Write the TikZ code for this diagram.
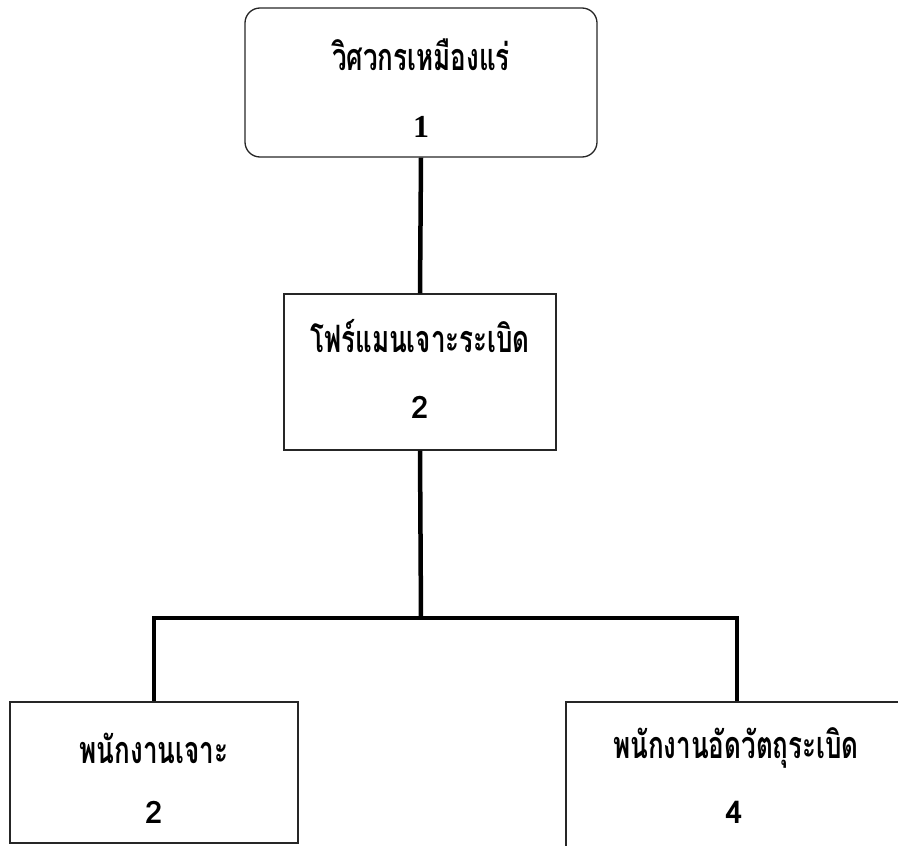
\documentclass[tikz,border=0pt]{standalone}
\usepackage{fontspec}
\newfontfamily\thaifont[Script=Thai]{Loma}
\newfontfamily\serifnum{Liberation Serif}
\newcommand\thtall[1]{\scalebox{1}[1.45]{#1}}
\begin{document}
\begin{tikzpicture}[x=1pt,y=-1pt,
  box/.style={draw=black!85, line width=1.3pt, minimum width=#1, inner sep=0pt},
  conn/.style={draw=black, line width=4.5pt, line cap=butt},
  lbl/.style={font=\thaifont\bfseries\fontsize{26}{30}\selectfont, inner sep=0pt, anchor=center},
  num/.style={font=\thaifont\bfseries\fontsize{31}{34}\selectfont, inner sep=0pt}
]
\useasboundingbox (0,0) rectangle (898,846);
% boxes
\node[box=352pt, minimum height=149pt, rounded corners=15pt] (top) at (421,82.5) {};
\node[box=272pt, minimum height=156pt] (mid) at (420,372) {};
\node[box=288pt, minimum height=141pt] (left) at (154,772.5) {};
\node[box=342pt, minimum height=160pt] (right) at (737,782) {};
% texts
\node[lbl] (t1) at (421,55) {\thtall{วิศวกรเหมืองแร่}};
\node[num, font=\serifnum\bfseries\fontsize{32}{34}\selectfont] (n1) at (421,127) {1};
\node[lbl] (t2) at (420,336) {\thtall{โฟร์แมนเจาะระเบิด}};
\node[num] (n2) at (420,407) {2};
\node[lbl] (t3) at (154,748) {\thtall{พนักงานเจาะ}};
\node[num] (n3) at (154,812) {2};
\node[lbl] (t4) at (736,748) {\thtall{พนักงานอัดวัตถุระเบิด}};
\node[num] (n4) at (734,812) {4};
% connectors
\coordinate (j) at (421,618);
\draw[conn] (top.south) -- (mid.north);
\draw[conn] (mid.south) -- (j);
\draw[conn, line join=miter] (j) -| (left.north);
\draw[conn, line join=miter] (j) -| (right.north);
\end{tikzpicture}
\end{document}
